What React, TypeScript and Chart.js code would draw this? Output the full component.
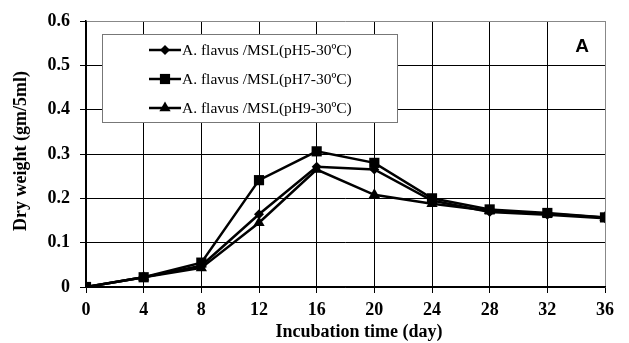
import React, { useEffect, useRef } from "react";
import { Chart, registerables } from "chart.js";

Chart.register(...registerables);

const days = [0, 4, 8, 12, 16, 20, 24, 28, 32, 36];
const ph5 = [0, 0.022, 0.048, 0.164, 0.271, 0.265, 0.195, 0.169, 0.163, 0.155];
const ph7 = [0, 0.022, 0.055, 0.241, 0.306, 0.28, 0.2, 0.175, 0.167, 0.157];
const ph9 = [0, 0.022, 0.043, 0.145, 0.265, 0.208, 0.188, 0.172, 0.165, 0.157];
const seriesNames = [
  "A. flavus /MSL(pH5-30\u00BAC)",
  "A. flavus /MSL(pH7-30\u00BAC)",
  "A. flavus /MSL(pH9-30\u00BAC)",
];
const yTicks = [0, 0.1, 0.2, 0.3, 0.4, 0.5, 0.6];
const xTitle = "Incubation time (day)";
const yTitle = "Dry weight (gm/5ml)";
const panelLabel = "A";

const SERIF = "'Liberation Serif', 'Times New Roman', serif";
const SANS = "'Liberation Sans', Arial, sans-serif";

export default function App() {
  const ref = useRef<HTMLCanvasElement | null>(null);
  useEffect(() => {
    const ctx = ref.current!.getContext("2d")!;
    const styles = [
      { pointStyle: "rectRot", radius: 5 },
      { pointStyle: "rect", radius: 7.2 },
      { pointStyle: "triangle", radius: 6.5 },
    ];
    const data = [ph5, ph7, ph9];
    function drawMarker(c: CanvasRenderingContext2D, style: string, r: number, x: number, y: number) {
      c.beginPath();
      if (style === "rect") {
        const s = Math.SQRT1_2 * r;
        c.rect(x - s, y - s, 2 * s, 2 * s);
      } else if (style === "rectRot") {
        c.moveTo(x, y - r);
        c.lineTo(x + r, y);
        c.lineTo(x, y + r);
        c.lineTo(x - r, y);
        c.closePath();
      } else {
        c.moveTo(x, y - r);
        c.lineTo(x + r * 0.866, y + r * 0.5);
        c.lineTo(x - r * 0.866, y + r * 0.5);
        c.closePath();
      }
      c.fill();
    }
    const overlay = {
      id: "overlay",
      afterDraw(chart: any) {
        const c = chart.ctx;
        c.save();
        // axis titles
        c.fillStyle = "#000";
        c.font = `bold 18px ${SERIF}`;
        c.textAlign = "center";
        c.textBaseline = "middle";
        c.fillText(xTitle, 359, 332);
        c.save();
        c.translate(21, 151);
        c.rotate(-Math.PI / 2);
        c.fillText(yTitle, 0, 0);
        c.restore();
        // panel label
        c.font = `bold 19px ${SANS}`;
        c.textAlign = "center";
        c.fillText(panelLabel, 582, 47);
        // legend
        const bx = 102, by = 34, bw = 295, bh = 88;
        c.fillStyle = "#fff";
        c.fillRect(bx, by, bw, bh);
        c.strokeStyle = "#777";
        c.lineWidth = 1;
        c.strokeRect(bx + 0.5, by + 0.5, bw, bh);
        c.font = `15.5px ${SERIF}`;
        c.textAlign = "left";
        c.textBaseline = "middle";
        for (let i = 0; i < 3; i++) {
          const y = 50 + i * 29;
          c.strokeStyle = "#000";
          c.lineWidth = 2.5;
          c.beginPath();
          c.moveTo(149, y);
          c.lineTo(181, y);
          c.stroke();
          c.fillStyle = "#000";
          drawMarker(c, styles[i].pointStyle, styles[i].radius, 165, y);
          c.fillStyle = "#000";
          c.fillText(seriesNames[i], 182, y + 1);
        }
        c.restore();
      },
    };
    const chart = new Chart(ctx, {
      type: "line",
      data: {
        datasets: data.map((d, i) => ({
          label: seriesNames[i],
          data: d.map((v, j) => ({ x: days[j], y: v })),
          borderColor: "#000",
          backgroundColor: "#000",
          borderWidth: 2.5,
          pointStyle: styles[i].pointStyle as any,
          pointRadius: styles[i].radius,
          pointBorderWidth: 0,
          pointBackgroundColor: "#000",
          tension: 0,
        })),
      },
      options: {
        animation: false,
        responsive: false,
        layout: { padding: { top: 21, right: 24, left: 0, bottom: 0 } },
        plugins: { legend: { display: false }, tooltip: { enabled: false } },
        scales: {
          x: {
            type: "linear",
            min: 0,
            max: 36,
            afterFit: (s: any) => { s.height = 56; },
            afterBuildTicks: (s: any) => { s.ticks = days.map((v) => ({ value: v })); },
            ticks: {
              color: "#000",
              font: { family: SERIF, size: 18, weight: "bold" },
              padding: 7,
              maxRotation: 0,
            },
            grid: {
              color: (c: any) => (c.tick && c.tick.value === 36 ? "#888" : "#000"),
              lineWidth: 1,
              tickLength: 6,
              tickColor: "#000",
            },
            border: { color: "#000", width: 1.5 },
          },
          y: {
            type: "linear",
            min: 0,
            max: 0.6,
            afterFit: (s: any) => { s.width = 86; },
            afterBuildTicks: (s: any) => { s.ticks = yTicks.map((v) => ({ value: v })); },
            ticks: {
              color: "#000",
              font: { family: SERIF, size: 18, weight: "bold" },
              padding: 10,
              callback: (v: any) => String(Math.round(Number(v) * 10) / 10),
            },
            grid: {
              color: (c: any) => (c.tick && Math.abs(c.tick.value - 0.6) < 1e-6 ? "#888" : "#000"),
              lineWidth: 1,
              tickLength: 6,
              tickColor: "#000",
            },
            border: { color: "#000", width: 1.5 },
          },
        },
      },
      plugins: [overlay],
    } as any);
    return () => chart.destroy();
  }, []);
  return (
    <div style={{ position: "fixed", left: 0, top: 0, width: 629, height: 343, background: "#fff" }}>
      <canvas ref={ref} width={629} height={343} style={{ display: "block" }} />
    </div>
  );
}
